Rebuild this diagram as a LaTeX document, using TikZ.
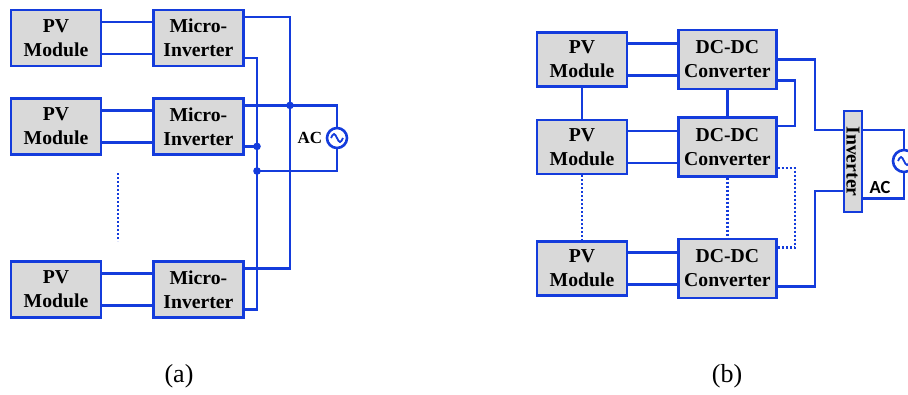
\documentclass[tikz,border=0pt]{standalone}
\usepackage{fontspec}
\setmainfont{Liberation Serif}
\newfontfamily\acfont{Carlito}
\usetikzlibrary{positioning, calc}
\definecolor{wireblue}{RGB}{20,60,220}
\definecolor{boxgray}{RGB}{217,217,217}

\begin{document}
\begin{tikzpicture}[
        x=1pt, y=-1pt,
        box/.style={
            draw=wireblue,
            fill=boxgray,
            line width=2.4pt,
            inner sep=0pt,
            minimum width=90pt,
            minimum height=56pt,
            align=center,
            font=\bfseries\fontsize{19.7}{24}\selectfont
        },
        wire/.style={
            draw=wireblue,
            line width=2.2pt
        },
        dotwire/.style={
            wire,
            dash pattern=on 2pt off 2pt
        },
        src/.style={
            circle,
            draw=wireblue,
            line width=2.6pt,
            minimum size=20pt,
            inner sep=0pt
        },
        node distance=50pt
    ]
    \useasboundingbox (0,0) rectangle (908,394);

    % (a) one micro-inverter per module
    \node[box] (pv1) at (56,38) {PV\\Module};
    \node[box, right=of pv1] (mi1) {Micro-\\Inverter};
    \node[box, below=30pt of pv1] (pv2) {PV\\Module};
    \node[box, right=of pv2] (mi2) {Micro-\\Inverter};
    \node[box] (pv3) at (56,289.5) {PV\\Module};
    \node[box, right=of pv3] (mi3) {Micro-\\Inverter};

    \node[src] (ac1) at (337,138) {};
    \node[left=0pt of ac1, font=\bfseries\fontsize{17}{17}\selectfont] (ac1-label) {AC};

    \coordinate (busN) at (257,0);
    \coordinate (busL) at (290,0);
    \coordinate (ret) at (257,171);
    \coordinate (gapA) at (118,173);
    \coordinate (gapB) at (118,241);

    \foreach \i in {1,2,3} {
        \draw[wire] ([yshift=16pt]pv\i.east) -- ([yshift=16pt]mi\i.west);
        \draw[wire] ([yshift=-16pt]pv\i.east) -- ([yshift=-16pt]mi\i.west);
        \coordinate (mi\i-l) at ($(mi\i.east)+(0,-21)$);
        \coordinate (mi\i-n) at ($(mi\i.east)+(0,20)$);
    }

    \draw[wire] (mi1-l) -| (busL |- mi3-l) -- (mi3-l);
    \draw[wire] (mi1-n) -| (busN |- mi3-n) -- (mi3-n);
    \draw[wire] (mi2-l) -| (ac1.north);
    \draw[wire] (mi2-n) -- (busN |- mi2-n);
    \draw[wire] (ac1.south) |- (ret);
    \fill[wireblue] (busL |- mi2-l) circle (3.8pt);
    \fill[wireblue] (busN |- mi2-n) circle (3.8pt);
    \fill[wireblue] (ret) circle (3.8pt);
    \draw[dotwire] (gapA) -- (gapB);

    % (b) dc-dc converters in series, one inverter
    \node[box, minimum height=54pt] (rpv1) at (582,59.5) {PV\\Module};
    \node[box, minimum width=98pt, minimum height=59pt, right=49pt of rpv1] (rdc1) {DC-DC\\Converter};
    \node[box, minimum height=54pt, below=31pt of rpv1] (rpv2) {PV\\Module};
    \node[box, minimum width=98pt, minimum height=59pt, right=49pt of rpv2] (rdc2) {DC-DC\\Converter};
    \node[box, minimum height=54pt] (rpv3) at (582,268.5) {PV\\Module};
    \node[box, minimum width=98pt, minimum height=59pt, right=49pt of rpv3] (rdc3) {DC-DC\\Converter};

    \node[box, minimum width=18pt, minimum height=101pt] (inv) at (853,161.5) {\rotatebox{-90}{Inverter}};
    \node[src, minimum size=22pt] (ac2) at (904,161) {};
    \node[font=\acfont\bfseries\fontsize{18.5}{18.5}\selectfont] (ac2-label) at (880,187.5) {AC};

    \foreach \i in {1,2,3} {
        \draw[wire] ([yshift=16pt]rpv\i.east) -- ([yshift=16pt]rdc\i.west);
        \draw[wire] ([yshift=-16pt]rpv\i.east) -- ([yshift=-16pt]rdc\i.west);
    }
    \draw[wire] (rpv1.south) -- (rpv2.north);
    \draw[wire] (rdc1.south) -- (rdc2.north);
    \draw[dotwire] (rpv2.south) -- (rpv3.north);
    \draw[dotwire] (rdc2.south) -- (rdc3.north);

    \coordinate (jS) at (795,0);
    \coordinate (jL) at (815,0);
    \coordinate (dc1-n) at ($(rdc1.east)+(0,21)$);
    \coordinate (dc2-l) at ($(rdc2.east)+(0,-21)$);
    \coordinate (dc2-n) at ($(rdc2.east)+(0,21)$);
    \coordinate (dc3-l) at ($(rdc3.east)+(0,-21)$);
    \coordinate (dc3-o) at ($(rdc3.east)+(0,18)$);
    \coordinate (inv-a) at ($(inv.west)+(0,-31.5)$);
    \coordinate (inv-b) at ($(inv.west)+(0,29.5)$);
    \coordinate (inv-c) at ($(inv.east)+(0,-31.5)$);
    \coordinate (inv-d) at ($(inv.east)+(0,37)$);

    \draw[wire] (rdc1.east) -| (jL |- inv-a) -- (inv-a);
    \draw[wire] (dc1-n) -| (jS |- dc2-l) -- (dc2-l);
    \draw[dotwire] (dc2-n) -| (jS |- dc3-l) -- (dc3-l);
    \draw[wire] (dc3-o) -| (jL |- inv-b) -- (inv-b);
    \draw[wire] (inv-c) -| (ac2.north);
    \draw[wire] (inv-d) -| (ac2.south);

    % sine marks in the sources
    \foreach \s in {ac1, ac2} {
        \draw[wireblue, line width=1.8pt] ($(\s.center)+(-6,0)$) sin ++(3,-4) cos ++(3,4) sin ++(3,4) cos ++(3,-4);
    }

    \node[font=\fontsize{26}{26}\selectfont] (cap-a) at (179,376) {(a)};
    \node[font=\fontsize{26}{26}\selectfont] (cap-b) at (727,376) {(b)};
\end{tikzpicture}
\end{document}
